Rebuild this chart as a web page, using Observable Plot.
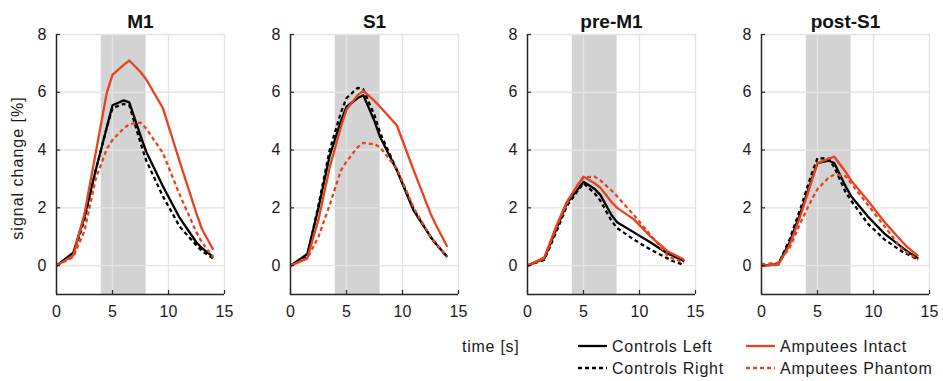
<!DOCTYPE html>
<html>
<head>
<meta charset="utf-8">
<script src="https://cdn.jsdelivr.net/npm/d3@7"></script>
<script src="https://cdn.jsdelivr.net/npm/@observablehq/plot@0.6"></script>
<style>
  html, body { margin: 0; padding: 0; background: #fff; }
  #chart { position: relative; width: 943px; height: 381px; overflow: hidden; font-family: "Liberation Sans", Arial, Helvetica, sans-serif; color: #1a1a1a; }
  .panel { position: absolute; top: 0; }
  .lg { position: absolute; font-size: 16px; letter-spacing: 0.75px; line-height: 20px; white-space: nowrap; }
  .lgline { position: absolute; }
  .ylab { position: absolute; font-size: 16px; letter-spacing: 1px; line-height: 20px; white-space: nowrap; transform: translate(-50%, -50%) rotate(-90deg); }
</style>
</head>
<body>
<div id="chart"></div>
<script>
// ---- data ----
const regions = ["M1", "S1", "pre-M1", "post-S1"];
const seriesNames = ["Controls Left", "Controls Right", "Amputees Intact", "Amputees Phantom"];
const yLabel = "signal change [%]";
const xLabel = "time [s]";
const time = [0, 1.5, 2.5, 3.5, 4.5, 5, 6, 6.5, 7.5, 8, 9.5, 11, 12.5, 13, 14];
const stimulus = [4, 8];
const xTicks = [0, 5, 10, 15];
const yTicks = [0, 2, 4, 6, 8];

const m1ControlsLeft     = [0, 0.45, 1.7, 3.3, 4.8, 5.55, 5.72, 5.65, 4.5, 3.95, 2.75, 1.65, 0.8, 0.6, 0.3];
const m1ControlsRight    = [0, 0.35, 1.6, 3.3, 4.8, 5.45, 5.6, 5.55, 4.25, 3.65, 2.4, 1.35, 0.7, 0.5, 0.25];
const m1AmputeesIntact   = [0, 0.35, 1.8, 3.9, 6.0, 6.6, 6.95, 7.1, 6.7, 6.45, 5.45, 3.6, 1.8, 1.25, 0.55];
const m1AmputeesPhantom  = [0, 0.3, 1.2, 3.0, 4.05, 4.35, 4.75, 4.9, 4.95, 4.75, 3.9, 2.45, 1.15, 0.8, 0.28];

const s1ControlsLeft     = [0, 0.4, 2.0, 3.8, 5.0, 5.5, 5.8, 5.9, 5.0, 4.45, 3.3, 1.9, 1.0, 0.75, 0.3];
const s1ControlsRight    = [0, 0.3, 2.1, 4.0, 5.3, 5.8, 6.15, 6.1, 5.2, 4.6, 3.3, 1.95, 1.0, 0.75, 0.3];
const s1AmputeesIntact   = [0, 0.25, 1.6, 3.4, 4.8, 5.4, 5.9, 6.05, 5.7, 5.5, 4.85, 3.3, 1.8, 1.4, 0.65];
const s1AmputeesPhantom  = [0, 0.25, 1.0, 2.1, 3.3, 3.6, 4.1, 4.25, 4.2, 4.1, 3.35, 2.0, 1.0, 0.75, 0.3];

const preM1ControlsLeft    = [0, 0.25, 1.2, 2.15, 2.65, 2.9, 2.65, 2.45, 1.75, 1.5, 1.15, 0.8, 0.42, 0.33, 0.15];
const preM1ControlsRight   = [0, 0.2, 1.1, 2.05, 2.6, 2.85, 2.5, 2.25, 1.55, 1.3, 0.9, 0.55, 0.25, 0.15, 0.02];
const preM1AmputeesIntact  = [0, 0.28, 1.3, 2.2, 2.8, 3.08, 2.85, 2.7, 2.2, 2.0, 1.6, 1.0, 0.5, 0.4, 0.2];
const preM1AmputeesPhantom = [0, 0.25, 1.25, 2.15, 2.8, 3.05, 3.08, 2.95, 2.6, 2.4, 1.75, 1.05, 0.35, 0.25, 0.1];

const postS1ControlsLeft    = [0, 0.05, 0.8, 1.85, 3.0, 3.55, 3.63, 3.55, 2.75, 2.4, 1.7, 1.1, 0.65, 0.5, 0.25];
const postS1ControlsRight   = [0, 0.05, 0.9, 2.0, 3.2, 3.72, 3.7, 3.4, 2.55, 2.25, 1.45, 0.9, 0.5, 0.4, 0.2];
const postS1AmputeesIntact  = [0, 0.03, 0.7, 1.75, 2.95, 3.55, 3.7, 3.77, 3.25, 2.95, 2.25, 1.5, 0.85, 0.65, 0.33];
const postS1AmputeesPhantom = [0.05, 0.1, 0.6, 1.5, 2.3, 2.65, 3.05, 3.15, 3.1, 2.85, 2.1, 1.35, 0.6, 0.45, 0.2];

const regionSeries = [
  [m1ControlsLeft, m1ControlsRight, m1AmputeesIntact, m1AmputeesPhantom],
  [s1ControlsLeft, s1ControlsRight, s1AmputeesIntact, s1AmputeesPhantom],
  [preM1ControlsLeft, preM1ControlsRight, preM1AmputeesIntact, preM1AmputeesPhantom],
  [postS1ControlsLeft, postS1ControlsRight, postS1AmputeesIntact, postS1AmputeesPhantom]
];

// ---- styles ----
const RED = "#e8431e";
const BLACK = "#000000";
const seriesStroke = [BLACK, BLACK, RED, RED];
const seriesDash = [null, "4,3", null, "4,3"];
const FONT = '"Liberation Sans", Arial, Helvetica, sans-serif';
const panelFrameLeft = [56, 290, 527, 761];
const ML = 50, MR = 12, MT = 34, MB = 36, W = 230, H = 330;

const chart = document.getElementById("chart");

regions.forEach((region, i) => {
  const marks = [
    Plot.rect([stimulus], {x1: d => d[0], x2: d => d[1], y1: -1, y2: 8, fill: "#d3d3d3"}),
    Plot.gridX(xTicks.slice(1), {stroke: "#e4e4e4", strokeOpacity: 1, strokeWidth: 1.4}),
    Plot.gridY(yTicks, {stroke: "#e4e4e4", strokeOpacity: 1, strokeWidth: 1.4})
  ];
  regionSeries[i].forEach((vals, k) => {
    const rows = time.map((t, j) => ({t, v: vals[j]}));
    marks.push(Plot.line(rows, {
      x: "t", y: "v", stroke: seriesStroke[k], strokeWidth: 2.3,
      strokeDasharray: seriesDash[k] || undefined, strokeLinejoin: "round", strokeLinecap: "butt"
    }));
  });
  marks.push(
    Plot.ruleX([0], {y1: -1, y2: 8, stroke: "#262626", strokeWidth: 1.5}),
    Plot.ruleY([-1], {x1: 0, x2: 15, stroke: "#262626", strokeWidth: 1.5}),
    Plot.axisY({ticks: yTicks, tickSize: -4, tickFormat: () => "", label: null, stroke: "#262626", strokeWidth: 1.2}),
    Plot.axisX({ticks: xTicks, tickSize: -4, tickFormat: () => "", label: null, stroke: "#262626", strokeWidth: 1.2}),
    Plot.axisY({ticks: yTicks, tickSize: 0, tickPadding: 10, fontSize: 16, label: null, fill: "#1a1a1a"}),
    Plot.axisX({ticks: xTicks, tickSize: 0, tickPadding: 11, fontSize: 16, label: null, fill: "#1a1a1a"}),
    Plot.text([region], {frameAnchor: "top", dy: -20, fontSize: 19, fontWeight: "bold", fill: "#111", text: d => d})
  );
  const svg = Plot.plot({
    width: W, height: H,
    marginLeft: ML, marginRight: MR, marginTop: MT, marginBottom: MB,
    x: {domain: [0, 15]},
    y: {domain: [-1, 8]},
    style: {fontFamily: FONT, fontSize: "16px", background: "transparent", overflow: "visible"},
    marks
  });
  svg.classList.add("panel");
  svg.style.left = (panelFrameLeft[i] - ML) + "px";
  chart.appendChild(svg);
});

// ---- y label ----
const yl = document.createElement("div");
yl.className = "ylab";
yl.textContent = yLabel;
yl.style.left = "18px";
yl.style.top = "168px";
chart.appendChild(yl);

// ---- legend / x label ----
function addText(txt, left, cy) {
  const d = document.createElement("div");
  d.className = "lg";
  d.textContent = txt;
  d.style.left = left + "px";
  d.style.top = (cy - 10) + "px";
  chart.appendChild(d);
}
function addLine(x1, x2, cy, color, dash) {
  const ns = "http://www.w3.org/2000/svg";
  const s = document.createElementNS(ns, "svg");
  s.setAttribute("class", "lgline");
  s.setAttribute("width", x2 - x1);
  s.setAttribute("height", 6);
  s.style.left = x1 + "px";
  s.style.top = (cy - 3) + "px";
  const l = document.createElementNS(ns, "line");
  l.setAttribute("x1", 0); l.setAttribute("x2", x2 - x1);
  l.setAttribute("y1", 3); l.setAttribute("y2", 3);
  l.setAttribute("stroke", color); l.setAttribute("stroke-width", 2.3);
  if (dash) l.setAttribute("stroke-dasharray", dash);
  s.appendChild(l);
  chart.appendChild(s);
}
addText(xLabel, 462, 347);
const legendPos = [[578, 346], [578, 368], [746, 346], [746, 368]];
seriesNames.forEach((name, k) => {
  const [lx, cy] = legendPos[k];
  addLine(lx, lx + 29, cy, seriesStroke[k], seriesDash[k]);
  addText(name, lx + 34, cy + 1);
});
</script>
</body>
</html>
